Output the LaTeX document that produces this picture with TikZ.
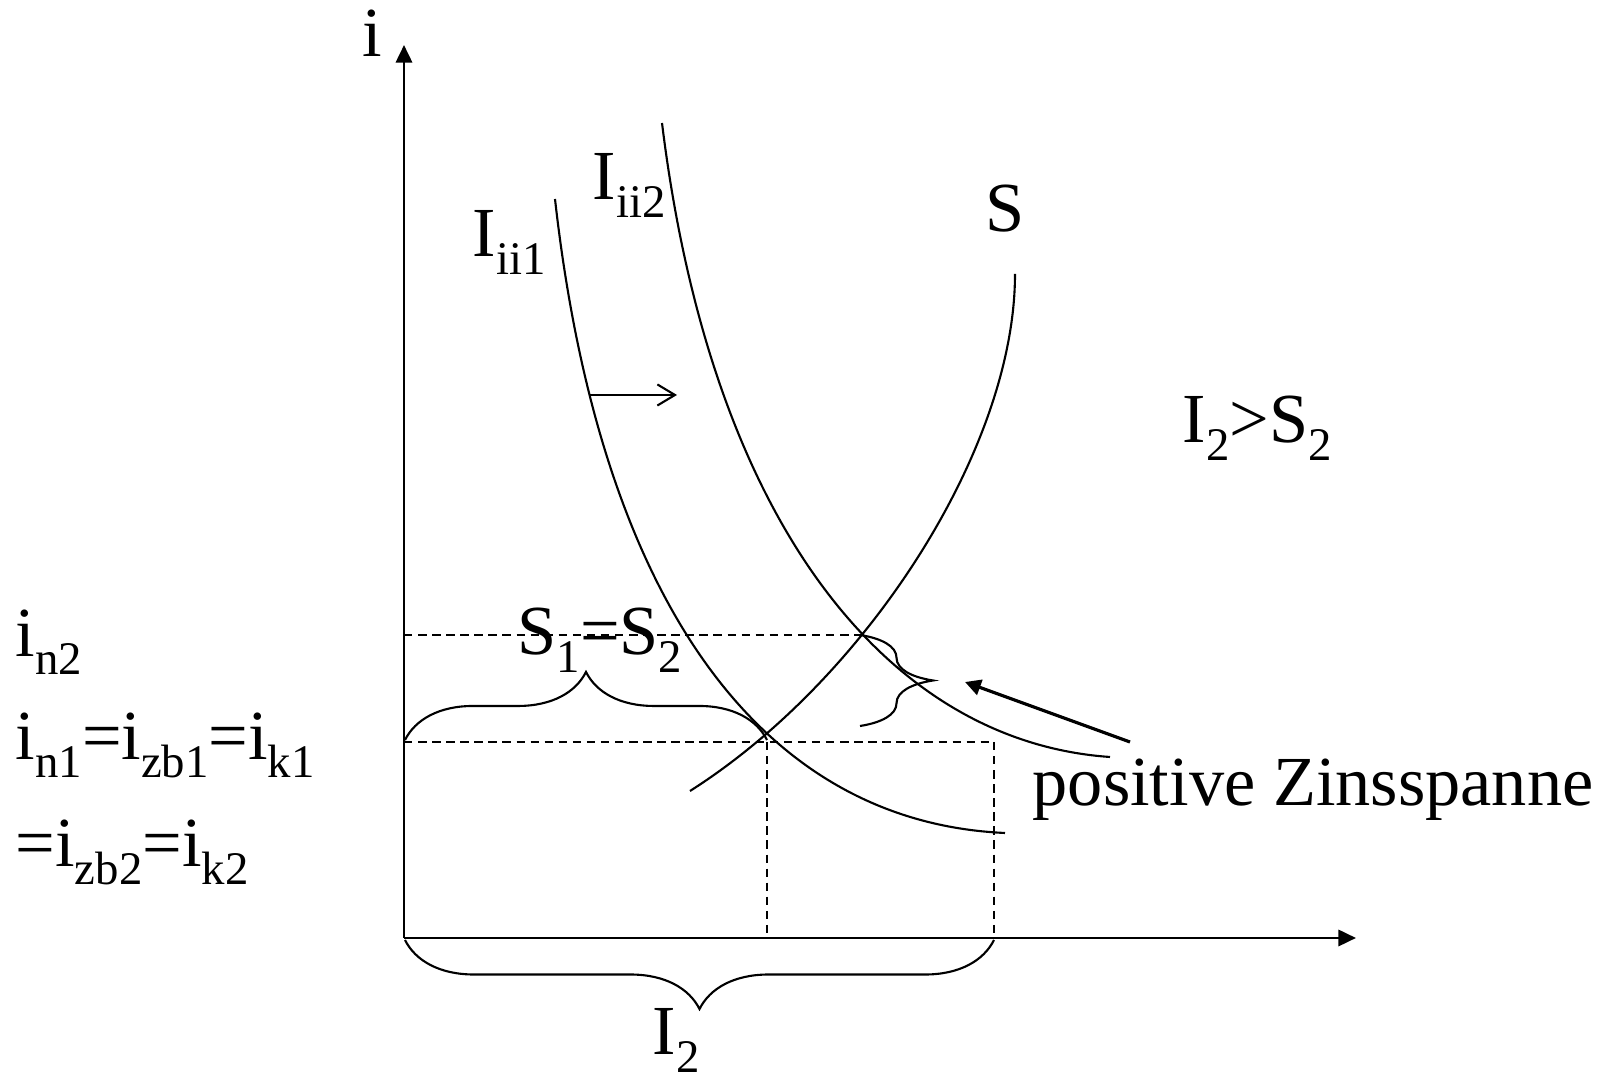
\documentclass[tikz,border=0pt]{standalone}
\usepackage{fontspec}
\setmainfont{Liberation Serif}
\usepackage{tikz}
\usetikzlibrary{arrows.meta,decorations.pathreplacing}
\newcommand\lo[1]{\raisebox{-5pt}{\fontsize{13.3}{16}\selectfont #1}}

\begin{document}
\begin{tikzpicture}[
  x=0.01cm, y=-0.01cm,
  font=\fontsize{20}{24}\selectfont,
  axis/.style={line width=0.8pt, -{Triangle[length=5pt,width=4.6pt]}},
  curve/.style={line width=0.6pt},
  guide/.style={line width=0.5pt, dash pattern=on 2.4pt off 1.6pt},
  brc/.style={line width=0.6pt, decorate, decoration={brace, amplitude=#1}},
  lbl/.style={inner sep=0pt, anchor=base west},
  shiftarr/.style={line width=0.6pt, -{Straight Barb[length=5pt,width=6pt]}},
  notearr/.style={line width=0.9pt, -{Triangle[length=4.5pt,width=4.5pt]}}
]
\useasboundingbox (0,0) rectangle (1620,1080);

%% axes
\coordinate (O)    at (404,938);
\coordinate (ytip) at (404,45);
\coordinate (xtip) at (1356,938);
\draw[axis] (O) -- (ytip);
\draw[axis] (O) -- (xtip);
\node[inner sep=0pt, anchor=base] (ilab) at (372,57) {i};

%% points on the curves
\coordinate (E1) at (767,742);
\coordinate (E2) at (862,635);
\coordinate (R)  at (994,742);

%% dashed guides
\draw[guide] (O |- E2) -- (E2);
\draw[guide] (O |- R) -- (R);
\draw[guide] (E1) -- (E1 |- O);
\draw[guide] (R) -- (R |- O);

%% curves
\draw[curve] (555,199) .. controls (600,600) and (760,822) .. (1005,833);
\draw[curve] (662,123) .. controls (712,530) and (892,742) .. (1110,757);
\draw[curve] (690,791) .. controls (865,680) and (1015,450) .. (1015,274);

%% shift of the investment curve
\coordinate (s1) at (589,395);
\coordinate (s2) at (677,395);
\draw[shiftarr] (s1) -- (s2);

%% braces
\draw[brc=0.68cm] (405,740) -- (767,740);
\draw[brc=0.69cm] (994,940) -- (405,940);
\draw[brc=0.73cm] (860,635) -- (860,726);

%% labels
\node[lbl] (ii1)  at (472,257)  {I\lo{ii1}};
\node[lbl] (ii2)  at (592,200)  {I\lo{ii2}};
\node[lbl] (slab) at (985,232)  {S};
\node[lbl] (ineq) at (1182,443) {I\lo{2}>S\lo{2}};
\node[lbl] (seq)  at (517,655)  {S\lo{1}=S\lo{2}};
\node[lbl] (itot) at (652,1055) {I\lo{2}};
\node[lbl] (zins) at (1032,806) {positive Zinsspanne};
\node[lbl] (in2)  at (15,657)   {i\lo{n2}};
\node[lbl] (in1)  at (15,760)   {i\lo{n1}=i\lo{zb1}=i\lo{k1}};
\node[lbl] (izb2) at (15,867)   {=i\lo{zb2}=i\lo{k2}};

%% pointer to the spread
\coordinate (ztail) at (1130,742);
\coordinate (ztip)  at (965,682);
\draw[notearr] (ztail) -- (ztip);
\end{tikzpicture}
\end{document}
